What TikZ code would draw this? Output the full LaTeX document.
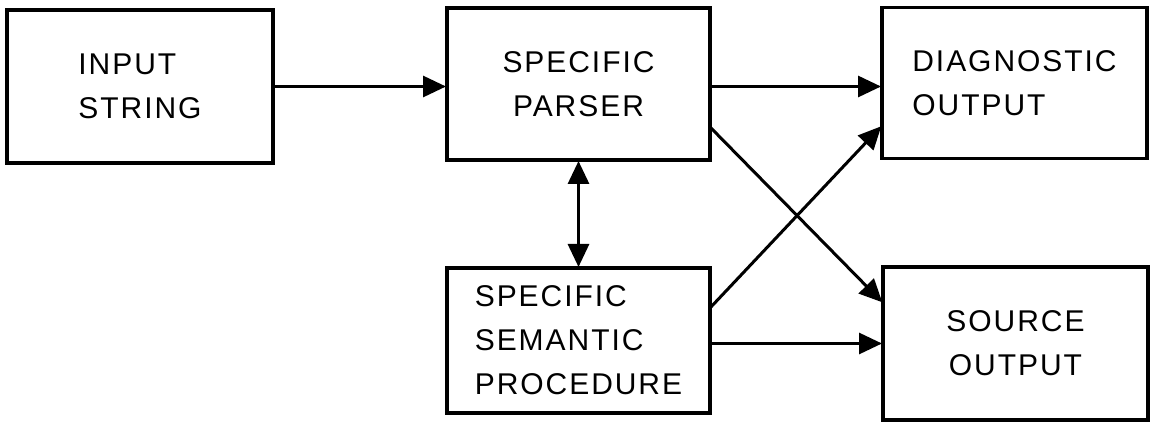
\documentclass[tikz,border=0pt]{standalone}
\usepackage{fontspec}
\setmainfont{Liberation Sans}[LetterSpace=6.5]
\usetikzlibrary{arrows.meta}
\begin{document}
\begin{tikzpicture}[x=1pt,y=-1pt,
  blk/.style={draw, line width=3.8pt, inner sep=0pt, outer sep=0pt,
    font=\fontsize{30}{44}\selectfont},
  conn/.style={line width=3pt, -{Triangle[length=23pt,width=21pt]}, shorten >=1pt},
  dconn/.style={line width=3pt, {Triangle[length=23pt,width=21pt]}-{Triangle[length=23pt,width=21pt]}, shorten >=1pt, shorten <=1pt}]
\useasboundingbox (0,0) rectangle (1152,422);
\node[blk, minimum width=266pt, minimum height=153pt, align=left] (inp) at (140,86.5) {INPUT\\STRING};
\node[blk, minimum width=263pt, minimum height=152pt, align=center] (par) at (578.5,84) {SPECIFIC\\PARSER};
\node[blk, minimum width=265pt, minimum height=151pt, align=left] (diag) at (1014.5,83) {DIAGNOSTIC\\OUTPUT};
\node[blk, minimum width=263pt, minimum height=145pt, align=left] (sem) at (578.5,340.5) {SPECIFIC\\SEMANTIC\\PROCEDURE};
\node[blk, minimum width=265pt, minimum height=153pt, align=center] (src) at (1015.5,343.5) {SOURCE\\OUTPUT};
\draw[conn] (inp.east) -- (par.west |- inp.east);
\draw[conn] (par.east |- inp.east) -- (diag.west |- inp.east);
\draw[dconn] (par.south) -- (sem.north);
\draw[conn] (sem.east |- src.west) -- (src.west);
\draw[conn] ([yshift=33pt]par.south east) -- ([yshift=-36pt]src.north west);
\draw[conn] ([yshift=-40pt]sem.north east) -- ([yshift=33pt]diag.south west);
\end{tikzpicture}
\end{document}
